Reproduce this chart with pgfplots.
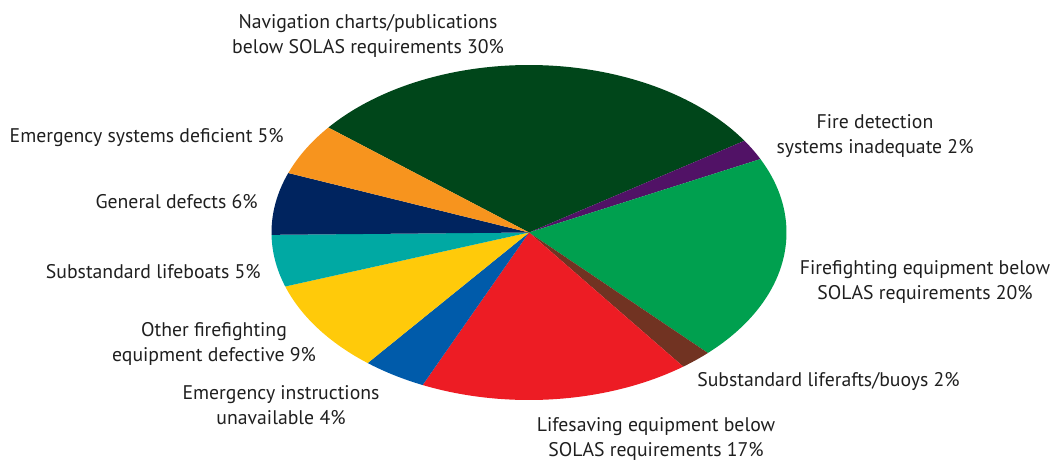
\documentclass[border=0pt]{standalone}
\usepackage{pgfplots}
\pgfplotsset{compat=1.18}
\usepackage{fontspec}
\setmainfont{PT Sans}
\definecolor{navc}{HTML}{00461A}
\definecolor{firec}{HTML}{511266}
\definecolor{ffc}{HTML}{00A04F}
\definecolor{raftc}{HTML}{713322}
\definecolor{lifec}{HTML}{ED1C24}
\definecolor{instc}{HTML}{005BAA}
\definecolor{otherc}{HTML}{FFCA0A}
\definecolor{boatc}{HTML}{00A9A3}
\definecolor{genc}{HTML}{00245F}
\definecolor{emc}{HTML}{F7941E}
\def\cx{529}\def\cy{226.5}\def\rx{257.5}\def\ry{167.5}
\gdef\curang{141.2}
\newcommand\slice[2]{%
  \pgfmathsetmacro\angA{\curang}%
  \pgfmathsetmacro\angB{\curang-3.6*#1}%
  \edef\tmp{\noexpand\addplot[fill=#2, draw=none, domain=\angB:\angA, samples=90] ({\cx+\rx*cos(x)},{\cy+\ry*sin(x)}) -- (axis cs:\cx,\cy) -- cycle;}%
  \tmp
  \global\let\curang\angB
}
\tikzset{lbl/.style={font=\fontsize{14.8}{18.75}\selectfont, inner sep=0pt, text=black!88}}
\begin{document}
\begin{tikzpicture}
\begin{axis}[
  width=792.75pt, height=344.25pt, scale only axis,
  xmin=0, xmax=1057, ymin=0, ymax=459,
  axis line style={draw=none}, ticks=none, clip=false,
]
% percentages, clockwise from the navigation slice
\slice{30}{navc}
\slice{2}{firec}
\slice{20}{ffc}
\slice{2}{raftc}
\slice{17}{lifec}
\slice{4}{instc}
\slice{9}{otherc}
\slice{5}{boatc}
\slice{6}{genc}
\slice{5}{emc}
\node[lbl, align=center] at (axis cs:368,423.5) {Navigation charts/publications\\below SOLAS requirements 30\%};
\node[lbl, align=center] at (axis cs:875,322.5) {Fire detection\\systems inadequate 2\%};
\node[lbl, align=center] at (axis cs:925,177.5) {Firefighting equipment below\\SOLAS requirements 20\%};
\node[lbl, anchor=west] at (axis cs:697,77.5) {Substandard liferafts/buoys 2\%};
\node[lbl, align=center] at (axis cs:656,20.5) {Lifesaving equipment below\\SOLAS requirements 17\%};
\node[lbl, align=center] at (axis cs:281,53.5) {Emergency instructions\\unavailable 4\%};
\node[lbl, align=center] at (axis cs:214,115.5) {Other firefighting\\equipment defective 9\%};
\node[lbl, anchor=east] at (axis cs:261,187.5) {Substandard lifeboats 5\%};
\node[lbl, anchor=east] at (axis cs:258,257.5) {General defects 6\%};
\node[lbl, anchor=east] at (axis cs:284,321.5) {Emergency systems deficient 5\%};
\end{axis}
\end{tikzpicture}
\end{document}
